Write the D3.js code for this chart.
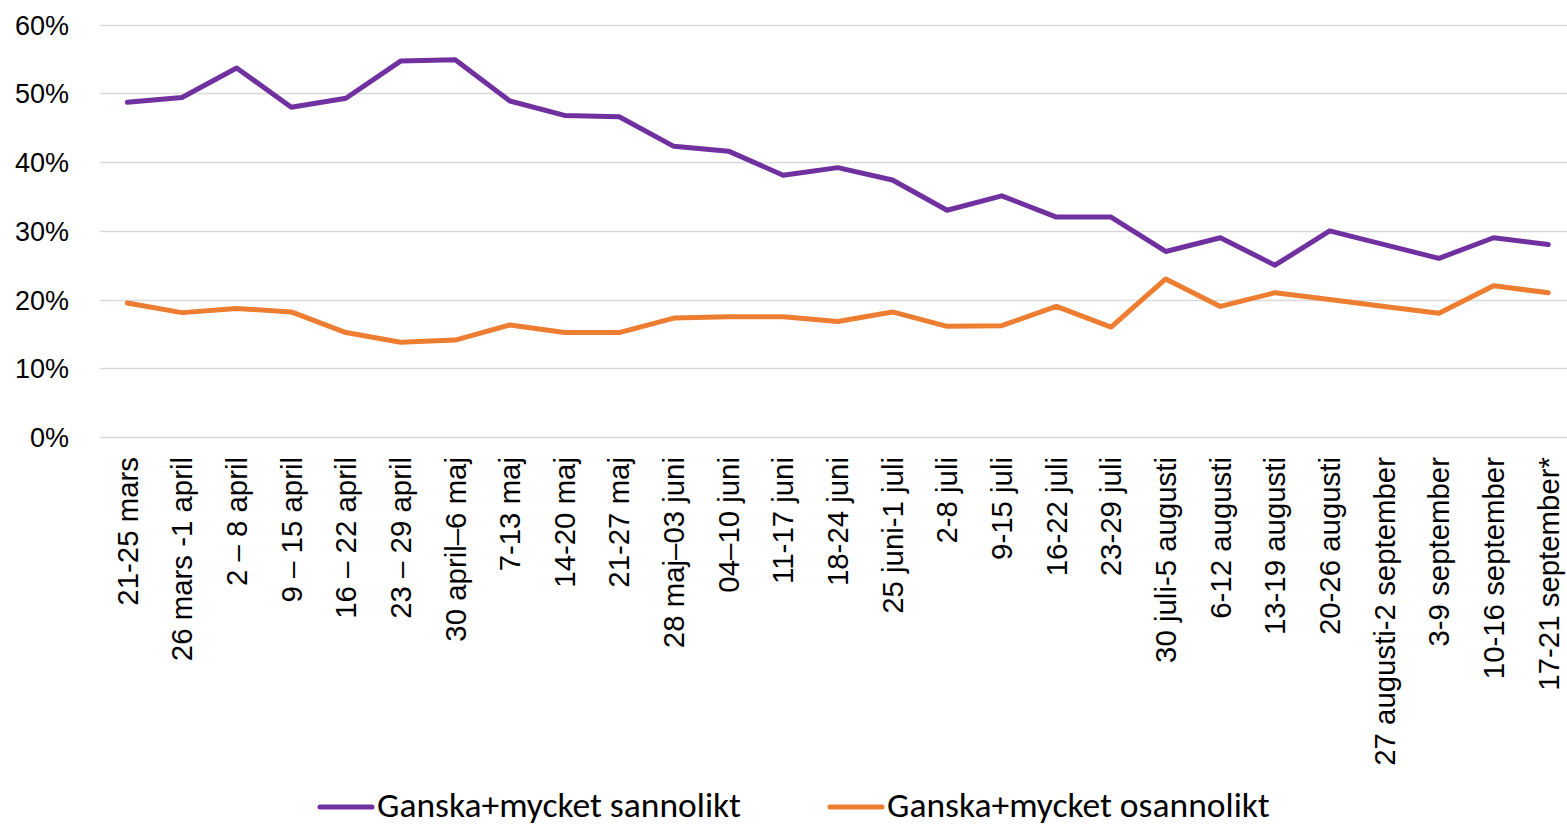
<!DOCTYPE html>
<html>
<head>
<meta charset="utf-8">
<script src="https://cdn.jsdelivr.net/npm/d3@7"></script>
<style>
    body { margin: 0; background: #fff; }
    svg { display: block; font-family: Carlito, Lato, 'Open Sans', sans-serif; }
</style>
</head>
<body>
<svg id="chart" width="1567" height="830"></svg>
<script>
const weeks = [
    '21-25 mars', '26 mars -1 april', '2 – 8 april', '9 – 15 april', '16 – 22 april',
    '23 – 29 april', '30 april–6 maj', '7-13 maj', '14-20 maj', '21-27 maj',
    '28 maj–03 juni', '04–10 juni', '11-17 juni', '18-24 juni', '25 juni-1 juli',
    '2-8 juli', '9-15 juli', '16-22 juli', '23-29 juli', '30 juli-5 augusti',
    '6-12 augusti', '13-19 augusti', '20-26 augusti', '27 augusti-2 september',
    '3-9 september', '10-16 september', '17-21 september*'
];

const sannolikt = [
    48.7, 49.4, 53.7, 48.0, 49.3, 54.7, 54.9, 48.9, 46.8, 46.6,
    42.3, 41.6, 38.1, 39.2, 37.4, 33.0, 35.1, 32, 32, 27,
    29, 25, 30, 28, 26, 29, 28
];

const osannolikt = [
    19.5, 18.1, 18.7, 18.2, 15.2, 13.8, 14.1, 16.3, 15.2, 15.2,
    17.3, 17.5, 17.5, 16.8, 18.2, 16.1, 16.2, 19, 16, 23,
    19, 21, 20, 19, 18, 22, 21
];

const yTicks = [0, 10, 20, 30, 40, 50, 60];

const seriesNames = ['Ganska+mycket sannolikt', 'Ganska+mycket osannolikt'];
const colors = ['#7030A0', '#ED7D31'];

const svg = d3.select('#chart');

const x = d3.scaleBand()
    .domain(weeks)
    .range([100, 1575.6]);

const y = d3.scaleLinear()
    .domain([0, 60])
    .range([437, 24.7]);

const cx = d => x(d) + x.bandwidth() / 2;

// gridlines
svg.append('g')
    .selectAll('line')
    .data(yTicks)
    .enter()
    .append('line')
    .attr('x1', 100)
    .attr('x2', 1575.6)
    .attr('y1', d => Math.round(y(d)) + 0.5)
    .attr('y2', d => Math.round(y(d)) + 0.5)
    .attr('stroke', '#D9D9D9')
    .attr('stroke-width', 1.6);

// y axis labels
const yAxis = d3.axisLeft(y)
    .tickValues(yTicks)
    .tickFormat(d => d + '%')
    .tickSize(0)
    .tickPadding(0);

const gY = svg.append('g')
    .attr('transform', 'translate(69,0)')
    .call(yAxis);
gY.select('.domain').remove();
gY.selectAll('text')
    .attr('font-size', 27)
    .attr('font-family', null)
    .attr('fill', '#000')
    .attr('dy', '0.35em');

// x axis labels, rotated
const xAxis = d3.axisBottom(x)
    .tickSize(0)
    .tickPadding(0);

const gX = svg.append('g')
    .attr('transform', 'translate(0,457)')
    .call(xAxis);
gX.select('.domain').remove();
gX.selectAll('text')
    .attr('font-size', 29.4)
    .attr('font-family', null)
    .attr('fill', '#000')
    .attr('transform', 'rotate(-90)')
    .attr('text-anchor', 'end')
    .attr('x', 0)
    .attr('y', 0)
    .attr('dy', '0.35em');

// lines
const line = d3.line()
    .x((d, i) => cx(weeks[i]))
    .y(d => y(d));

[sannolikt, osannolikt].forEach((s, k) => {
    svg.append('path')
        .datum(s)
        .attr('fill', 'none')
        .attr('stroke', colors[k])
        .attr('stroke-width', 5)
        .attr('stroke-linejoin', 'round')
        .attr('stroke-linecap', 'round')
        .attr('d', line);
});

// legend
const legendX = [320, 830];
const legend = svg.append('g');
seriesNames.forEach((name, k) => {
    legend.append('line')
        .attr('x1', legendX[k])
        .attr('x2', legendX[k] + 52)
        .attr('y1', 807)
        .attr('y2', 807)
        .attr('stroke', colors[k])
        .attr('stroke-width', 5)
        .attr('stroke-linecap', 'round');
    legend.append('text')
        .attr('x', legendX[k] + 57)
        .attr('y', 805)
        .attr('dy', '0.35em')
        .attr('font-size', 35.5)
        .attr('fill', '#000')
        .text(name);
});
</script>
</body>
</html>
